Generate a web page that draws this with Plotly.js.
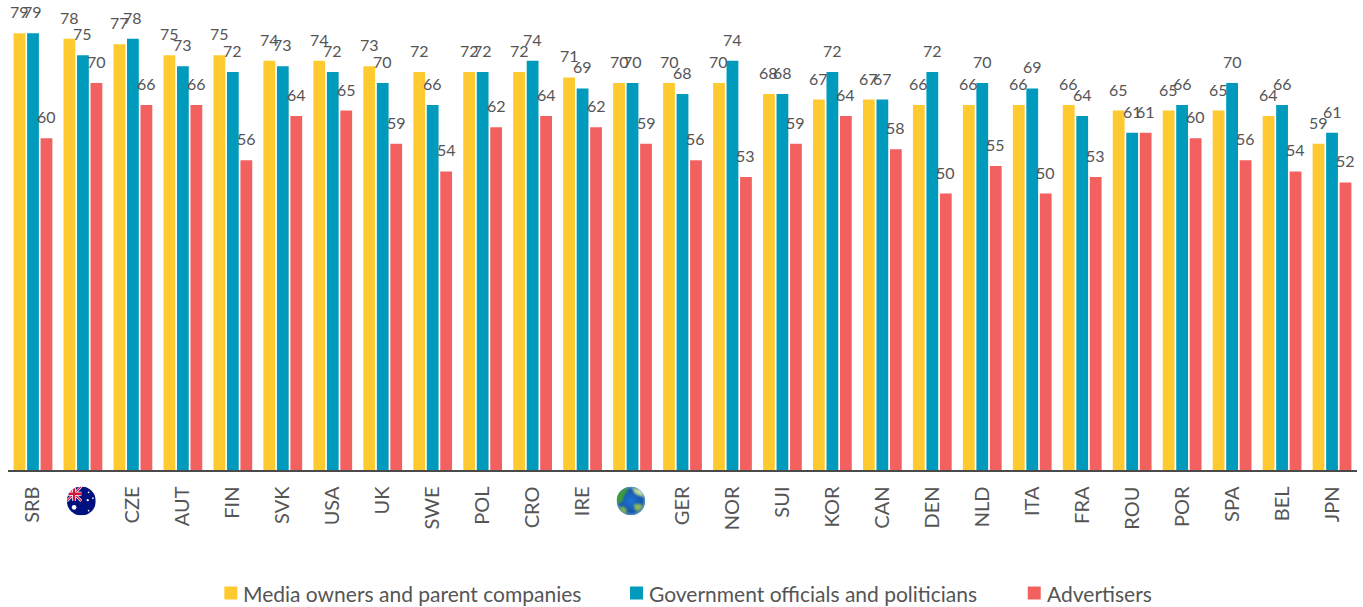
<!DOCTYPE html>
<html>
<head>
<meta charset="utf-8">
<script src="https://cdn.plot.ly/plotly-3.0.1.min.js"></script>
<style>html,body{margin:0;padding:0;background:#fff}#chart{width:1363px;height:607px}</style>
</head>
<body>
<div id="chart"></div>
<script>
const codes = ['SRB','AUS','CZE','AUT','FIN','SVK','USA','UK','SWE','POL','CRO','IRE','ALL','GER','NOR','SUI','KOR','CAN','DEN','NLD','ITA','FRA','ROU','POR','SPA','BEL','JPN'];
const tickLabels = ['SRB','','CZE','AUT','FIN','SVK','USA','UK','SWE','POL','CRO','IRE','','GER','NOR','SUI','KOR','CAN','DEN','NLD','ITA','FRA','ROU','POR','SPA','BEL','JPN'];
const mediaOwners = [79,78,77,75,75,74,74,73,72,72,72,71,70,70,70,68,67,67,66,66,66,66,65,65,65,64,59];
const government = [79,75,78,73,72,73,72,70,66,72,74,69,70,68,74,68,72,67,72,70,69,64,61,66,70,66,61];
const advertisers = [60,70,66,66,56,64,65,59,54,62,64,62,59,56,53,59,64,58,50,55,50,53,61,60,56,54,52];
const seriesNames = ['Media owners and parent companies','Government officials and politicians','Advertisers'];
const seriesColors = ['#FFCA30','#009ABD','#F26060'];
const seriesValues = [mediaOwners, government, advertisers];

const W = 1363, H = 607;
const ink = '#555555';
const font = 'Lato, "Open Sans", sans-serif';
const slots = codes.map((_, i) => i);

// Round emblems that stand in for the tick labels of the Australia and all-markets columns.
const australiaBadge = `<svg xmlns="http://www.w3.org/2000/svg" viewBox="0 0 100 100">
<defs><clipPath id="c"><circle cx="50" cy="50" r="50"/></clipPath></defs>
<g clip-path="url(#c)"><rect width="100" height="100" fill="#00107f"/>
<path d="M0 0L50 50M50 0L0 50" stroke="#fff" stroke-width="9"/>
<path d="M0 0L50 50M50 0L0 50" stroke="#d6123c" stroke-width="4"/>
<path d="M25 0V50M0 25H50" stroke="#fff" stroke-width="13"/>
<path d="M25 0V50M0 25H50" stroke="#d6123c" stroke-width="8"/>
<g fill="#fff"><circle cx="25" cy="72" r="8"/><circle cx="72" cy="47" r="4"/><circle cx="75" cy="20" r="3"/><circle cx="75" cy="83" r="3"/><circle cx="90" cy="40" r="3"/></g></g></svg>`;
const globeBadge = `<svg xmlns="http://www.w3.org/2000/svg" viewBox="0 0 100 100">
<defs><radialGradient id="o" cx="50%" cy="50%" r="55%"><stop offset="0" stop-color="#1f74d4"/><stop offset="0.7" stop-color="#1456ad"/><stop offset="1" stop-color="#7fb6d0"/></radialGradient>
<clipPath id="g"><circle cx="50" cy="50" r="50"/></clipPath><filter id="s"><feGaussianBlur stdDeviation="3"/></filter></defs>
<g clip-path="url(#g)"><circle cx="50" cy="50" r="50" fill="url(#o)"/>
<g filter="url(#s)"><path d="M0 30C10 12 28 4 40 8C40 22 26 26 24 38C28 50 14 56 6 60C2 52 0 40 0 30Z" fill="#3f9a3d"/>
<path d="M55 4C75 6 92 22 96 36C84 32 70 30 62 22C60 14 54 12 55 4Z" fill="#b9d98a"/>
<path d="M10 72C22 64 34 72 36 84C34 94 26 96 20 90Z" fill="#7fb34f"/>
<path d="M60 62C72 56 88 60 92 68C84 80 74 90 66 82C60 76 62 70 60 62Z" fill="#8cb85a"/>
<path d="M70 8C84 12 92 20 94 26C84 22 76 18 70 8Z" fill="#e6f0f4"/></g></g></svg>`;
const badges = [{slot: codes.indexOf('AUS'), svg: australiaBadge}, {slot: codes.indexOf('ALL'), svg: globeBadge}];

const traces = seriesNames.map((name, s) => ({
  type: 'bar',
  name: name,
  x: slots,
  y: seriesValues[s],
  marker: {color: seriesColors[s], line: {width: 0}},
  hoverinfo: 'y+name'
}));

// Value labels float a fixed distance above their bars.
const barPitch = 0.27;
const valueLabels = [];
seriesValues.forEach((values, s) => values.forEach((v, i) => valueLabels.push({
  x: i + (s - 1) * barPitch,
  y: v,
  xref: 'x',
  yref: 'y',
  text: String(v),
  showarrow: false,
  yanchor: 'bottom',
  yshift: 10,
  font: {family: font, size: 16, color: ink}
})));

// Key along the foot of the chart, spaced by hand so each entry keeps its own width.
const keyLeft = [224, 630, 1028];
const keySwatch = 13, keyTextGap = 4, keyMidY = 593;
const margin = {l: 7.5, r: 5.5, t: 0, b: 137, pad: 0};
const plotW = W - margin.l - margin.r, plotH = H - margin.t - margin.b;
const paperX = px => (px - margin.l) / plotW;
const paperY = py => 1 - (py - margin.t) / plotH;

const keyShapes = keyLeft.map((left, s) => ({
  type: 'rect',
  xref: 'paper',
  yref: 'paper',
  x0: paperX(left),
  x1: paperX(left + keySwatch),
  y0: paperY(keyMidY + keySwatch / 2),
  y1: paperY(keyMidY - keySwatch / 2),
  fillcolor: seriesColors[s],
  line: {width: 0}
}));
const keyLabels = keyLeft.map((left, s) => ({
  xref: 'paper',
  yref: 'paper',
  x: paperX(left + keySwatch + keyTextGap),
  y: paperY(keyMidY),
  xanchor: 'left',
  yanchor: 'middle',
  text: seriesNames[s],
  showarrow: false,
  font: {family: font, size: 21, color: ink}
}));

const layout = {
  width: W,
  height: H,
  margin: margin,
  paper_bgcolor: '#fff',
  plot_bgcolor: '#fff',
  font: {family: font, color: ink},
  barmode: 'group',
  bargap: 0.19,
  bargroupgap: 0.126,
  showlegend: false,
  xaxis: {
    range: [-0.5, 26.5],
    tickmode: 'array',
    tickvals: slots,
    ticktext: tickLabels,
    tickangle: -90,
    tickfont: {family: font, size: 20, color: ink},
    ticks: '',
    ticklabelstandoff: 7,
    automargin: false,
    showgrid: false,
    zeroline: false,
    showline: true,
    linecolor: '#4a4a4a',
    linewidth: 1.5,
    fixedrange: true
  },
  yaxis: {range: [0, 85], visible: false, fixedrange: true},
  annotations: valueLabels.concat(keyLabels),
  shapes: keyShapes,
  images: badges.map(b => ({
    source: 'data:image/svg+xml;charset=utf-8,' + encodeURIComponent(b.svg),
    xref: 'paper',
    yref: 'paper',
    x: paperX(margin.l + (b.slot + 0.5) * plotW / codes.length - 1.6),
    y: paperY(501),
    sizex: 29 / plotW,
    sizey: 29 / plotH,
    xanchor: 'center',
    yanchor: 'middle',
    layer: 'above'
  }))
};

Plotly.newPlot('chart', traces, layout, {displayModeBar: false, staticPlot: true});
</script>
</body>
</html>
